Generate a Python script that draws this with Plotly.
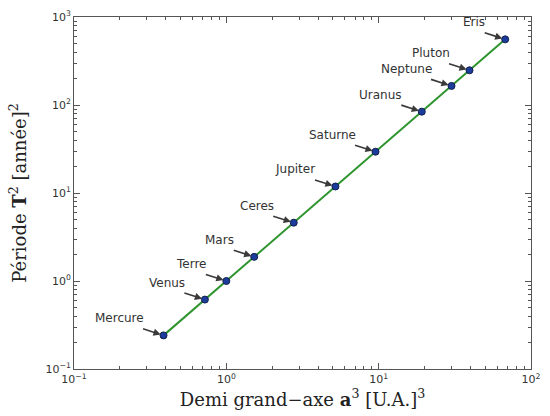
import math
import plotly.graph_objects as go

planets = ["Mercure", "Venus", "Terre", "Mars", "Ceres", "Jupiter", "Saturne",
           "Uranus", "Neptune", "Pluton", "Eris"]
a_values = [0.387, 0.723, 1.0, 1.524, 2.77, 5.203, 9.537, 19.19, 30.07, 39.48, 67.7]
T2_values = [0.241, 0.615, 1.0, 1.881, 4.6, 11.86, 29.46, 84.01, 164.8, 248.0, 557.0]

x_tickvals = [0.1, 1, 10, 100]
x_ticktext = ["10<sup>−1</sup>", "10<sup>0</sup>", "10<sup>1</sup>", "10<sup>2</sup>"]
y_tickvals = [0.1, 1, 10, 100, 1000]
y_ticktext = ["10<sup>−1</sup>", "10<sup>0</sup>", "10<sup>1</sup>", "10<sup>2</sup>", "10<sup>3</sup>"]

def minors(decades):
    return [m * d for d in decades for m in range(2, 10)]

fig = go.Figure()
fig.add_trace(go.Scatter(
    x=a_values, y=T2_values, mode="lines+markers",
    line=dict(color="#2e942e", width=2),
    marker=dict(color="#1c3c9c", size=7, line=dict(color="#10204a", width=1)),
    showlegend=False, hoverinfo="skip"))

annotations = []
for name, xv, yv in zip(planets, a_values, T2_values):
    lx, ly = math.log10(xv), math.log10(yv)
    # arrow
    annotations.append(dict(
        x=lx, y=ly, xref="x", yref="y", text="", showarrow=True,
        ax=-22, ay=-7, axref="pixel", ayref="pixel",
        arrowhead=2, arrowsize=0.9, arrowwidth=1.6, arrowcolor="#3a3a3a",
        standoff=3))
    # label
    annotations.append(dict(
        x=lx, y=ly, xref="x", yref="y", text=name, showarrow=False,
        xanchor="right", yanchor="middle", xshift=-18, yshift=17,
        font=dict(family="DejaVu Sans", size=12, color="#333333")))

axis_common = dict(
    type="log", showgrid=False, zeroline=False, automargin=False,
    showline=True, linecolor="#555555", linewidth=1, mirror="ticks",
    ticks="inside", ticklen=6, tickwidth=1, tickcolor="#555555",
    tickfont=dict(family="DejaVu Sans", size=11, color="#333333"),
)

fig.update_layout(
    width=550, height=416,
    margin=dict(l=74, r=19, t=17, b=47),
    paper_bgcolor="white", plot_bgcolor="white",
    annotations=annotations,
    xaxis=dict(
        **axis_common,
        range=[-1, 2],
        tickvals=x_tickvals, ticktext=x_ticktext,
        minor=dict(tickvals=minors([0.1, 1, 10]), ticks="inside", ticklen=3,
                   tickcolor="#555555"),
        title=dict(text="Demi grand−axe <b>a</b><sup>3</sup> [U.A.]<sup>3</sup>",
                   font=dict(family="DejaVu Serif", size=18, color="#222222"),
                   standoff=4),
    ),
    yaxis=dict(
        **axis_common,
        range=[-1, 3],
        tickvals=y_tickvals, ticktext=y_ticktext,
        minor=dict(tickvals=minors([0.1, 1, 10, 100]), ticks="inside", ticklen=3,
                   tickcolor="#555555"),
        title=dict(text="Période <b>T</b><sup>2</sup> [année]<sup>2</sup>",
                   font=dict(family="DejaVu Serif", size=18, color="#222222"),
                   standoff=14),
    ),
)

fig.write_html("out.html", config={"displayModeBar": False},
               post_script="document.body.style.margin='0';")
